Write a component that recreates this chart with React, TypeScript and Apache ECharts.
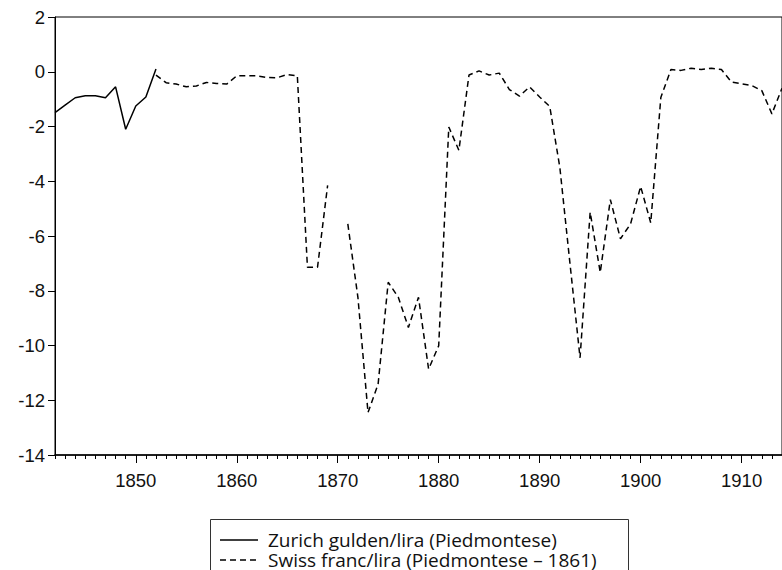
import React, { useEffect, useRef } from "react";
import * as echarts from "echarts";

const zurichYears = [1842, 1843, 1844, 1845, 1846, 1847, 1848, 1849, 1850, 1851, 1852];
const zurichValues = [-1.49, -1.22, -0.95, -0.88, -0.88, -0.95, -0.55, -2.1, -1.25, -0.92, 0.1];

const swissYears = [
  1852, 1853, 1854, 1855, 1856, 1857, 1858, 1859, 1860, 1861, 1862, 1863, 1864, 1865, 1866,
  1867, 1868, 1869, 1870, 1871, 1872, 1873, 1874, 1875, 1876, 1877, 1878, 1879, 1880,
  1881, 1882, 1883, 1884, 1885, 1886, 1887, 1888, 1889, 1890, 1891, 1892, 1893, 1894,
  1895, 1896, 1897, 1898, 1899, 1900, 1901, 1902, 1903, 1904, 1905, 1906, 1907, 1908,
  1909, 1910, 1911, 1912, 1913, 1914,
];
const swissValues: (number | null)[] = [
  -0.12, -0.4, -0.45, -0.55, -0.52, -0.39, -0.43, -0.45, -0.15, -0.15, -0.15, -0.21, -0.22, -0.1, -0.15,
  -7.14, -7.14, -4.15, null, -5.56, -8.24, -12.45, -11.41, -7.69, -8.24, -9.34, -8.24, -10.86, -10.01,
  -2.02, -2.87, -0.12, 0.03, -0.12, -0.05, -0.65, -0.89, -0.55, -0.92, -1.27, -3.5, -7.0, -10.45,
  -5.13, -7.33, -4.67, -6.1, -5.56, -4.19, -5.52, -0.94, 0.08, 0.05, 0.13, 0.08, 0.13, 0.08,
  -0.38, -0.44, -0.5, -0.69, -1.54, -0.6,
];

const xMin = 1842;
const xMax = 1914;
const majorTicks = [1850, 1860, 1870, 1880, 1890, 1900, 1910];
const yMin = -14;
const yMax = 2;
const yInterval = 2;

const legendLabels = [
  "Zurich gulden/lira (Piedmontese)",
  "Swiss franc/lira (Piedmontese \u2013 1861)",
];

export default function App() {
  const ref = useRef<HTMLDivElement>(null);
  useEffect(() => {
    if (!ref.current) return;
    const chart = echarts.init(ref.current, null, { renderer: "svg" });
    const minorTicks: number[] = [];
    for (let y = xMin; y <= xMax; y++) minorTicks.push(y);
    const axisFont = { fontFamily: "Liberation Sans", fontSize: 18.5, color: "#111" };
    const legendFont = {
      fontFamily: "Open Sans",
      fontSize: 19,
      lineHeight: 19,
      fill: "#111",
      verticalAlign: "middle",
      align: "left",
    };
    chart.setOption({
      animation: false,
      backgroundColor: "#fff",
      grid: {
        left: 55,
        top: 17,
        width: 728.6,
        height: 438,
        show: true,
        borderColor: "#000",
        borderWidth: 1,
      },
      xAxis: [
        {
          type: "value",
          min: xMin,
          max: xMax,
          splitLine: { show: false },
          axisLine: { show: true, onZero: false, lineStyle: { color: "#000", width: 1.5 } },
          axisTick: {
            show: true,
            length: 8,
            customValues: majorTicks,
            lineStyle: { color: "#000", width: 1 },
          },
          axisLabel: {
            ...axisFont,
            customValues: majorTicks,
            margin: 16,
            formatter: (v: number) => String(v),
          },
        },
        {
          type: "value",
          min: xMin,
          max: xMax,
          position: "bottom",
          gridIndex: 0,
          splitLine: { show: false },
          axisLine: { show: false, onZero: false },
          axisTick: {
            show: true,
            length: 4,
            customValues: minorTicks,
            lineStyle: { color: "#000", width: 1 },
          },
          axisLabel: { show: false },
        },
      ],
      yAxis: {
        type: "value",
        min: yMin,
        max: yMax,
        interval: yInterval,
        splitLine: { show: false },
        axisLine: { show: true, onZero: false, lineStyle: { color: "#000", width: 1 } },
        axisTick: { show: true, length: 7, lineStyle: { color: "#000", width: 1 } },
        axisLabel: { ...axisFont, margin: 10 },
      },
      series: [
        {
          name: legendLabels[0],
          type: "line",
          data: zurichYears.map((y, i) => [y, zurichValues[i]]),
          showSymbol: false,
          symbol: "none",
          lineStyle: { color: "#000", width: 1.5, type: "solid" },
          z: 3,
        },
        {
          name: legendLabels[1],
          type: "line",
          data: swissYears.map((y, i) => [y, swissValues[i]]),
          showSymbol: false,
          symbol: "none",
          connectNulls: false,
          lineStyle: { color: "#000", width: 1.5, type: [6, 4] },
          z: 3,
        },
      ],
      graphic: [
        {
          type: "rect",
          shape: { x: 210.5, y: 519.5, width: 418, height: 70 },
          style: { fill: "#fff", stroke: "#333", lineWidth: 1 },
          z: 10,
        },
        {
          type: "line",
          shape: { x1: 220, y1: 540, x2: 258, y2: 540 },
          style: { stroke: "#000", lineWidth: 1.5 },
          z: 11,
        },
        {
          type: "line",
          shape: { x1: 220, y1: 560, x2: 258, y2: 560 },
          style: { stroke: "#000", lineWidth: 1.5, lineDash: [6, 4] },
          z: 11,
        },
        {
          type: "text",
          x: 268,
          y: 540,
          style: { text: legendLabels[0], ...legendFont },
          z: 11,
        },
        {
          type: "text",
          x: 268,
          y: 560,
          style: { text: legendLabels[1], ...legendFont },
          z: 11,
        },
      ],
    });
    return () => chart.dispose();
  }, []);
  return (
    <div
      ref={ref}
      style={{ position: "absolute", left: 0, top: 0, width: 782, height: 570 }}
    />
  );
}
